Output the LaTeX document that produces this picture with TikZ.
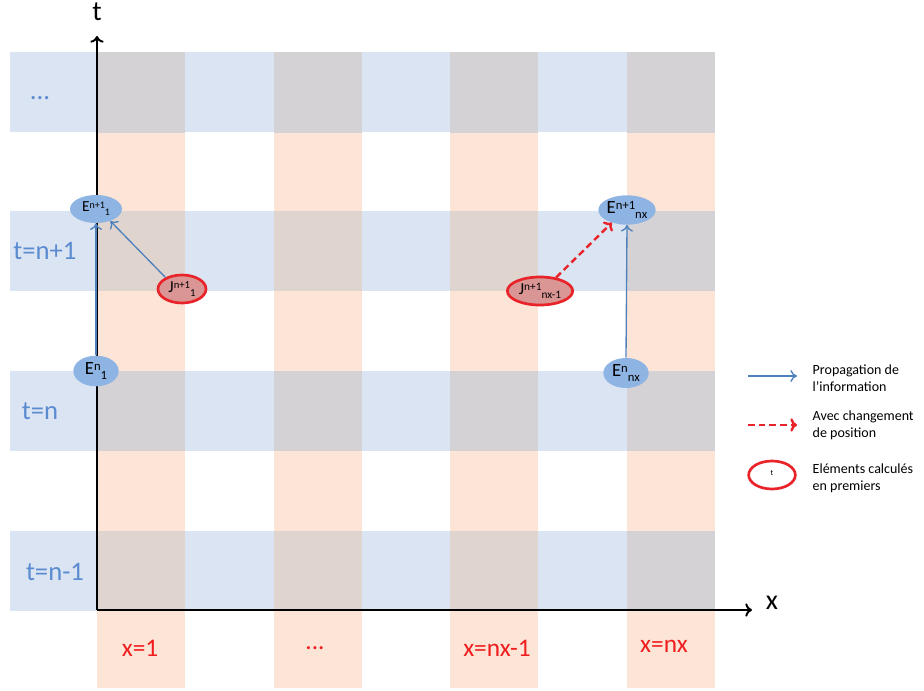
\documentclass[tikz,border=0pt]{standalone}
\usepackage{fontspec}
\setmainfont{Carlito}
\usetikzlibrary{shapes.geometric,arrows.meta}
\definecolor{bandblue}{HTML}{DAE4F2}
\definecolor{bandorange}{HTML}{FCE4D6}
\definecolor{ovgrey}{HTML}{D5D2D6}
\definecolor{ovbrown}{HTML}{E0D5CE}
\definecolor{nodeblue}{HTML}{8EB4E3}
\definecolor{nodered}{HTML}{D99694}
\definecolor{edgered}{HTML}{E8242A}
\definecolor{arrowblue}{HTML}{4F81BD}
\definecolor{labblue}{HTML}{5B8BD0}
\definecolor{labred}{HTML}{F01E1E}
% #1 main size, #2 script size, #3 letter, #4 sup, #5 sub
\newcommand{\elabx}[5]{{\fontsize{#1}{#1}\selectfont #3\raisebox{0.45ex}{\fontsize{#2}{#2}\selectfont #4}\raisebox{-0.55ex}{\fontsize{#2}{#2}\selectfont #5}}}
\begin{document}
\begin{tikzpicture}[x=0.75pt,y=-0.75pt,
  eblue/.style={ellipse,fill=nodeblue,draw=none,inner sep=0pt},
  jred/.style={ellipse,fill=nodered,draw=edgered,line width=2pt,inner sep=0pt},
  prop/.style={draw=arrowblue,line width=1pt,-{To[length=5pt,width=9pt]}},
  chg/.style={draw=edgered,line width=1.8pt,dashed,dash pattern=on 5pt off 3pt,-{To[length=5pt,width=10pt]}},
  axisline/.style={draw=black,line width=1.5pt,-{To[length=5pt,width=10pt]}},
  rowlab/.style={text=labblue,font=\fontsize{20}{20}\selectfont},
  collab/.style={text=labred,font=\fontsize{19}{19}\selectfont},
  legtext/.style={anchor=west,align=left,font=\fontsize{10.5}{12.5}\selectfont}]
\useasboundingbox (0,0) rectangle (924,691);
\fill[white] (0,0) rectangle (924,691);
% orange columns
\foreach \xa in {97,274,450,627}{
  \fill[bandorange] (\xa,52) rectangle ++(88,636);
}
% blue rows
\foreach \ya in {52,211,371,531}{
  \fill[bandblue] (10,\ya) rectangle (715,\ya+80);
}
% overlaps
\foreach \xa in {97,274,450,627}{
  \fill[ovgrey] (\xa,52) rectangle ++(88,81);
  \fill[ovgrey] (\xa,371) rectangle ++(88,80);
}
\foreach \xa in {97,274,450}{
  \fill[ovbrown] (\xa,211) rectangle ++(88,80);
  \fill[ovbrown] (\xa,531) rectangle ++(88,80);
}
\fill[ovgrey] (627,211) rectangle ++(88,80);
\fill[ovgrey] (627,531) rectangle ++(88,80);
% axes
\coordinate (O) at (97,610);
\coordinate (tend) at (97,36);
\coordinate (xend) at (752,610);
\draw[axisline] (O) -- (tend);
\draw[axisline] (O) -- (xend);
\node (tlab) at (97,12) {\fontsize{21}{21}\selectfont t};
\node (xlab) at (772,603) {\fontsize{21}{21}\selectfont x};
% row labels
\node[rowlab] (rdots) at (40,98) {...};
\node[rowlab] (rn1) at (45,251) {t=n+1};
\node[rowlab] (rn) at (40,411) {t=n};
\node[rowlab] (rnm1) at (55,572) {t=n-1};
% column labels
\node[collab] (c1) at (140,648) {x=1};
\node[collab] (cdots) at (315,648) {...};
\node[collab] (cnm1) at (497,648) {x=nx-1};
\node[collab] (cn) at (664,646) {x=nx};
% nodes
\node[eblue,minimum width=39pt,minimum height=21pt] (E1n1) at (96,209) {\elabx{11.5}{7.5}{E}{n+1}{1}};
\node[eblue,minimum width=34pt,minimum height=23pt] (E1n) at (96,371) {\elabx{14}{9.5}{E}{n}{1}};
\node[jred,minimum width=36pt,minimum height=21pt] (J1) at (182,289) {\elabx{12.5}{8}{J}{n+1}{1}};
\node[jred,minimum width=49pt,minimum height=21pt] (Jnx1) at (540,291) {\elabx{12.5}{8.5}{J}{n+1}{nx-1}};
\node[eblue,minimum width=43pt,minimum height=22pt] (Enxn1) at (627,210) {\elabx{14}{9.5}{E}{n+1}{nx}};
\node[eblue,minimum width=34pt,minimum height=22.5pt] (Enxn) at (626,373) {\elabx{14}{9.5}{E}{n}{nx}};
% connectors
\draw[prop] (E1n.north) -- (E1n1.south);
\draw[prop] (J1.145) -- (E1n1.-40);
\draw[prop] (Enxn.north) -- (Enxn1.south);
\draw[chg] (Jnx1.40) -- (Enxn1.-140);
% legend
\coordinate (la1) at (748,376);
\coordinate (la2) at (797,376);
\draw[prop] (la1) -- (la2);
\node[legtext] (lt1) at (808,378) {Propagation de\\l’information};
\coordinate (lb1) at (748,425);
\coordinate (lb2) at (797,425);
\draw[chg] (lb1) -- (lb2);
\node[legtext] (lt2) at (808,425) {Avec changement\\de position};
\node[ellipse,draw=edgered,line width=2pt,fill=white,inner sep=0pt,minimum width=35pt,minimum height=21pt,font=\fontsize{6}{6}\selectfont] (lell) at (772,475) {\raisebox{1.2ex}{t}};
\node[legtext] (lt3) at (808,478) {Eléments calculés\\en premiers};
\end{tikzpicture}
\end{document}
